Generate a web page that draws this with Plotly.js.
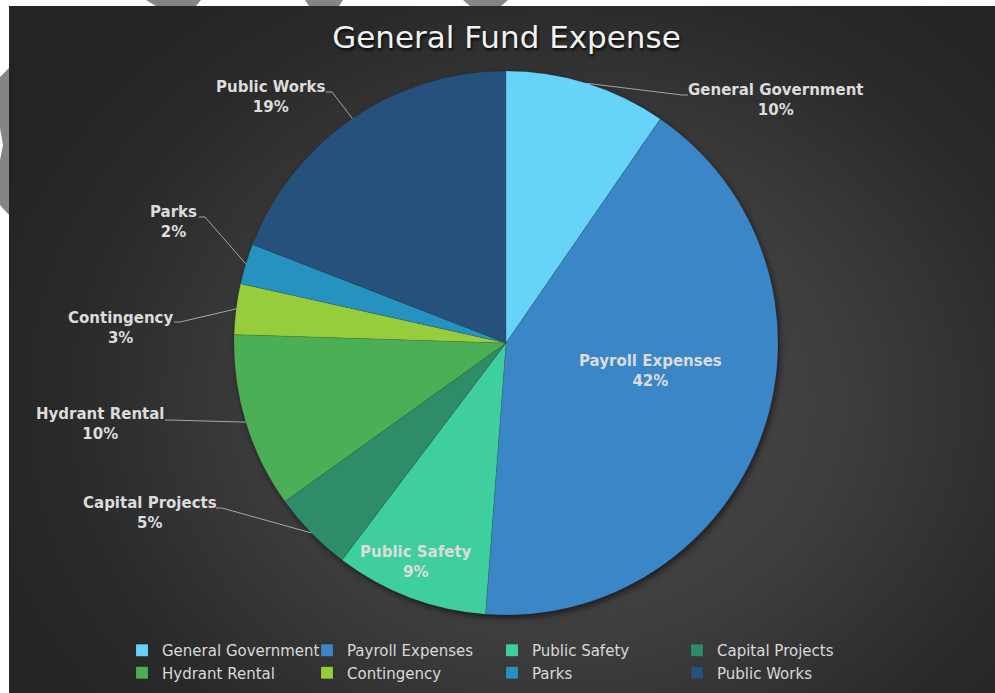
<!DOCTYPE html>
<html>
<head>
<meta charset="utf-8">
<script src="https://cdn.plot.ly/plotly-3.0.1.min.js"></script>
<style>
  html, body { margin: 0; padding: 0; background: #ffffff; width: 995px; height: 693px; overflow: hidden; }
  #marks { position: absolute; left: 0; top: 0; }
  #bg { position: absolute; left: 9px; top: 6px; width: 986px; height: 687px;
        background: radial-gradient(ellipse 62% 75% at 56% 58%, #4c4c4c 0%, #3e3e3e 45%, #2a2a2a 80%, #242424 100%); }
  #chart { position: absolute; left: 0; top: 0; width: 995px; height: 693px; }
  #chart .pielayer { filter: drop-shadow(2px 3px 3px rgba(0,0,0,0.55)); }
</style>
</head>
<body>
<svg id="marks" width="995" height="693">
  <g fill="#858585">
    <polygon points="146,0 201,0 196,6 156,6"/>
    <polygon points="305,0 343,0 339,6 309,6"/>
    <polygon points="463,0 508,0 501,6 470,6"/>
    <polygon points="0,77 9,68 9,215 0,205 0,160 3,145 0,128"/>
  </g>
</svg>
<div id="bg"></div>
<div id="chart"></div>
<script>
// ---- data ----
const categories = ["General Government", "Payroll Expenses", "Public Safety", "Capital Projects",
                    "Hydrant Rental", "Contingency", "Parks", "Public Works"];
const shares = [9.6, 41.6, 9.1, 4.8, 10.4, 3.0, 2.4, 19.1];
const sliceColors = ["#66d3f9", "#3a86c6", "#3fcf9f", "#2f8c69", "#4daf55", "#97cd3c", "#2592bf", "#25517c"];

// ---- layout config (positions / styles) ----
const W = 995, H = 693;
const ML = 0, MR = 150;            // right margin only bounds the legend row width (4 per row)
const PW = W - ML - MR;
const cx = 506, cy = 343, R = 272;
const FONT = 'DejaVu Sans, Verdana, sans-serif';
// label block centre (px) and leader anchor (px) per slice; null anchor = inside label
const labelPos = [
  {x: 776, y: 100, ax: 688, ay: 95},
  {x: 650, y: 371, ax: null},
  {x: 416, y: 562, ax: null},
  {x: 150, y: 513, ax: 216, ay: 508},
  {x: 100, y: 424, ax: 165, ay: 420},
  {x: 120, y: 328, ax: 174, ay: 322},
  {x: 173, y: 222, ax: 199, ay: 217},
  {x: 270, y: 97,  ax: 326, ay: 92}
];

const total = shares.reduce((a, b) => a + b, 0);
const px2x = p => (p - ML) / PW, py2y = p => 1 - p / H;

const annotations = [];
const shapes = [];
let cum = 0;
shares.forEach((v, i) => {
  const mid = (cum + v / 2) / total * 2 * Math.PI;
  cum += v;
  const ex = cx + R * Math.sin(mid), ey = cy - R * Math.cos(mid);
  const lp = labelPos[i];
  annotations.push({
    xref: 'paper', yref: 'paper', x: px2x(lp.x), y: py2y(lp.y),
    xanchor: 'center', yanchor: 'middle', showarrow: false,
    text: '<b>' + categories[i] + '<br>' + Math.round(v / total * 100) + '%</b>',
    font: {family: FONT, size: 15, color: '#dcdcdc'}
  });
  if (lp.ax !== null) {
    const dir = ex > lp.ax ? 1 : -1;
    const elbowX = lp.ax + dir * 6;
    shapes.push({
      type: 'path', xref: 'paper', yref: 'paper',
      path: 'M ' + px2x(lp.ax) + ',' + py2y(lp.ay) + ' L ' + px2x(elbowX) + ',' + py2y(lp.ay) +
            ' L ' + px2x(ex) + ',' + py2y(ey),
      line: {color: '#a6a6a6', width: 1}
    });
  }
});

const trace = {
  type: 'pie',
  labels: categories,
  values: shares,
  sort: false,
  direction: 'clockwise',
  rotation: 0,
  textinfo: 'none',
  hoverinfo: 'label+percent',
  marker: {colors: sliceColors, line: {color: 'rgba(40,40,40,0.25)', width: 0.5}},
  domain: {x: [px2x(cx - R), px2x(cx + R)], y: [py2y(cy + R), py2y(cy - R)]}
};

const layout = {
  width: W, height: H,
  margin: {l: ML, r: MR, t: 0, b: 0, autoexpand: false},
  paper_bgcolor: 'rgba(0,0,0,0)',
  plot_bgcolor: 'rgba(0,0,0,0)',
  title: {
    text: 'General Fund Expense',
    x: 0.509, xanchor: 'center', y: 0.947, yanchor: 'middle',
    font: {family: FONT, size: 31, color: '#f2f2f2',
           shadow: '1px 2px 3px rgba(0,0,0,0.9)'}
  },
  showlegend: true,
  legend: {
    orientation: 'h', x: px2x(122), xanchor: 'left', y: py2y(634), yanchor: 'top',
    entrywidth: 140, entrywidthmode: 'pixels', traceorder: 'normal',
    font: {family: FONT, size: 15, color: '#d9d9d9'},
    bgcolor: 'rgba(0,0,0,0)'
  },
  annotations: annotations,
  shapes: shapes
};

Plotly.newPlot('chart', [trace], layout, {displayModeBar: false, staticPlot: true});
</script>
</body>
</html>
